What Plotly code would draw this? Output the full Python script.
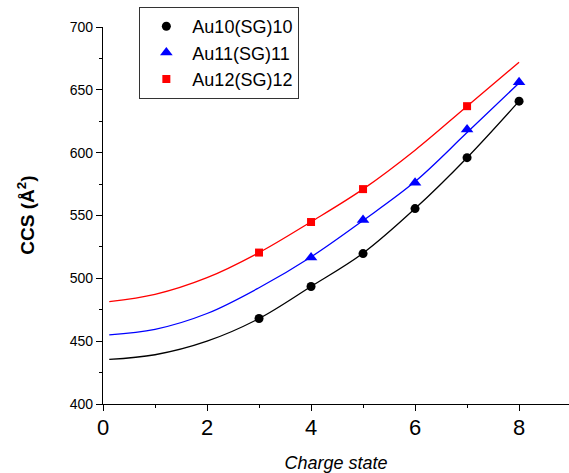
import plotly.graph_objects as go

# Measured collision cross sections per charge state
charge_au10 = [3, 4, 5, 6, 7, 8]
ccs_au10 = [468, 493.5, 519.7, 555.5, 596, 641]

charge_au11 = [4, 5, 6, 7, 8]
ccs_au11 = [516.5, 546.4, 576, 618.5, 656]

charge_au12 = [3, 4, 5, 7]
ccs_au12 = [520.5, 544.8, 571, 637]

# Smooth trend curves through each series
charge_fit = [0.12, 1, 2, 3, 4, 5, 6, 7, 8]
fit_au10 = [435.5, 439.2, 450, 468, 493.5, 520, 555.5, 596, 641]
fit_au11 = [455, 459.4, 472, 492.5, 517, 546, 577, 616, 655.5]
fit_au12 = [481.5, 487.2, 500.5, 520.5, 545, 571, 602, 637, 672]

x_ticks = [0, 2, 4, 6, 8]
y_ticks = [400, 450, 500, 550, 600, 650, 700]

FONT = "Arial, 'Liberation Sans', sans-serif"

fig = go.Figure()

series = [
    ("Au10(SG)10", charge_au10, ccs_au10, fit_au10, "black", "circle", 9),
    ("Au11(SG)11", charge_au11, ccs_au11, fit_au11, "blue", "triangle-up", 11),
    ("Au12(SG)12", charge_au12, ccs_au12, fit_au12, "red", "square", 8),
]

for name, xs, ys, fit, color, symbol, size in series:
    fig.add_trace(go.Scatter(
        x=charge_fit, y=fit, mode="lines",
        line=dict(color=color, width=1.3, shape="spline", smoothing=1.0),
        showlegend=False, hoverinfo="skip",
    ))

for name, xs, ys, fit, color, symbol, size in series:
    fig.add_trace(go.Scatter(
        x=xs, y=ys, mode="markers", name=name,
        marker=dict(color=color, symbol=symbol, size=size, line=dict(width=0)),
    ))

fig.update_layout(
    width=569, height=473,
    margin=dict(l=103, r=0, t=27, b=69, autoexpand=False),
    paper_bgcolor="white", plot_bgcolor="white",
    font=dict(family=FONT, color="black"),
    legend=dict(
        x=0.078, y=1.053, xanchor="left", yanchor="top",
        bgcolor="white", bordercolor="#333", borderwidth=1,
        font=dict(size=18, family=FONT, color="black"),
        itemwidth=42, tracegroupgap=0,
    ),
    xaxis=dict(
        range=[0, 8.96], tickvals=x_ticks,
        ticks="outside", ticklen=6, tickwidth=1.2, tickcolor="black",
        tickfont=dict(size=22, family=FONT),
        ticklabelstandoff=-3,
        showline=True, linecolor="black", linewidth=1.3,
        showgrid=False, zeroline=False,
        minor=dict(dtick=1, ticks="outside", ticklen=3, tickwidth=1.2, tickcolor="black"),
        title=dict(text="<i>Charge state</i>", font=dict(size=18, family=FONT), standoff=19),
    ),
    yaxis=dict(
        range=[400, 700], tickvals=y_ticks,
        ticks="outside", ticklen=6, tickwidth=1.2, tickcolor="black",
        tickfont=dict(size=14, family=FONT),
        showline=True, linecolor="black", linewidth=1.3,
        showgrid=False, zeroline=False,
        minor=dict(dtick=25, ticks="outside", ticklen=3, tickwidth=1.2, tickcolor="black"),
    ),
    annotations=[dict(
        text="<b>CCS (Å<sup>2</sup>)</b>", textangle=-90,
        xref="paper", yref="paper", x=-0.167, y=0.5,
        xanchor="center", yanchor="middle", showarrow=False,
        font=dict(size=19, family=FONT, color="black"),
    )],
)

fig.write_html("out.html")
